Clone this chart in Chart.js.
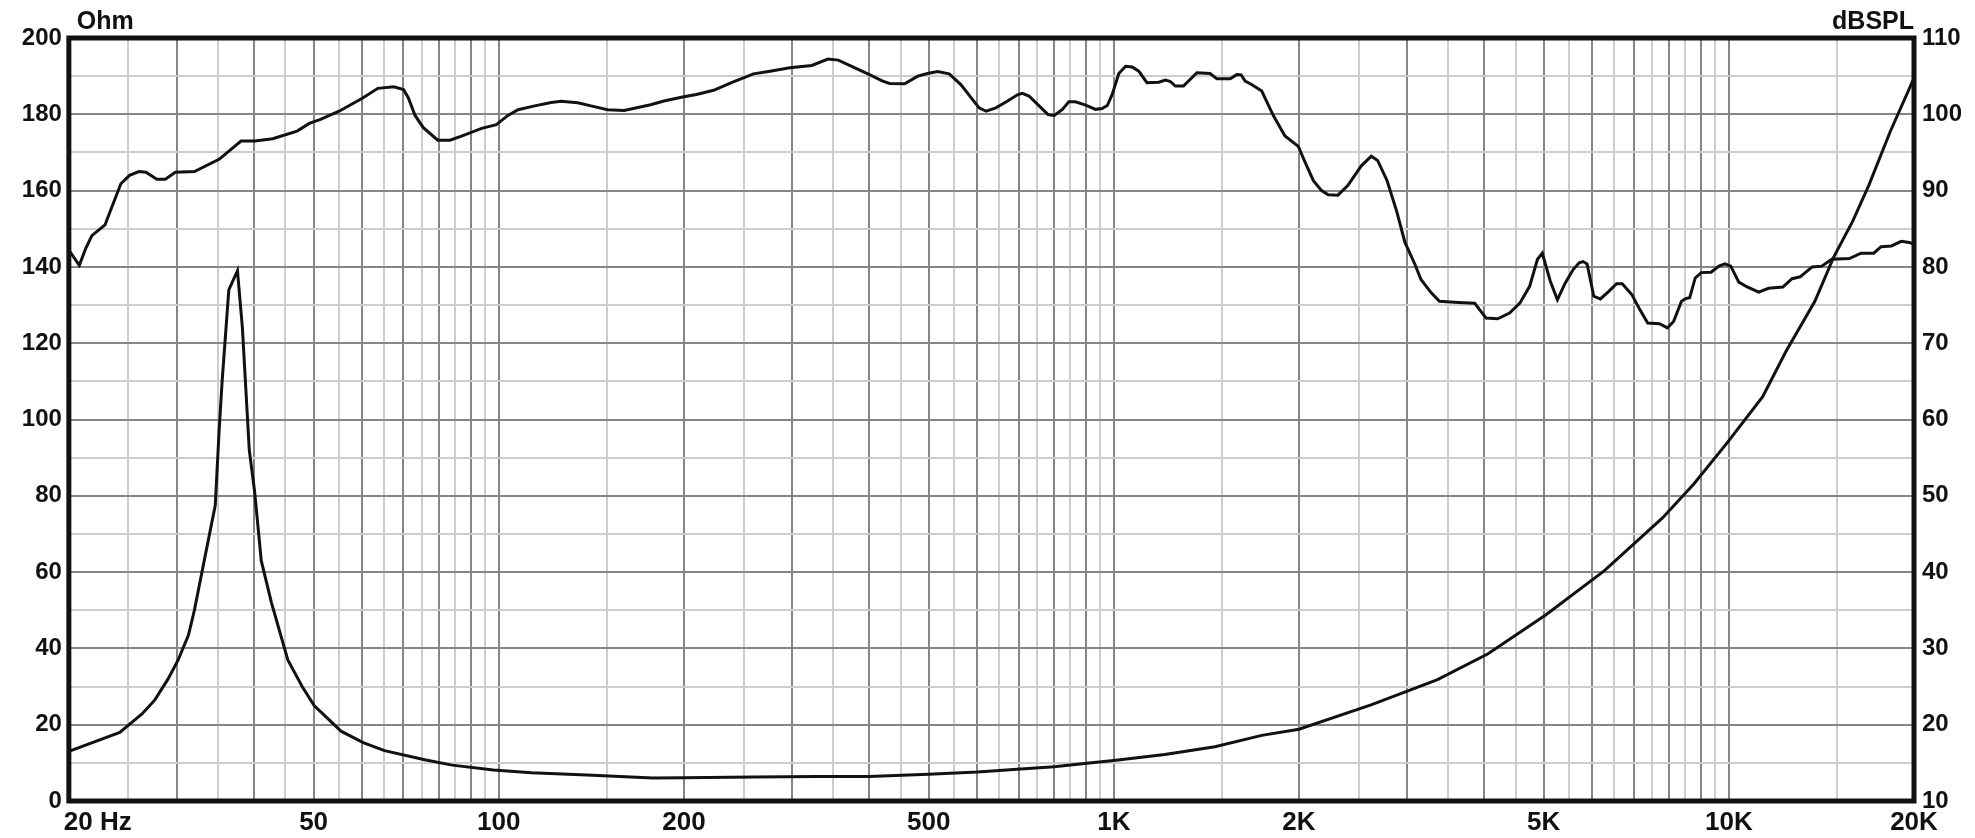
<!DOCTYPE html>
<html>
<head>
<meta charset="utf-8">
<script src="https://cdn.jsdelivr.net/npm/chart.js@4.4.1/dist/chart.umd.min.js"></script>
<style>
  html, body { margin: 0; padding: 0; background: #ffffff; }
  #wrap { width: 1975px; height: 838px; }
</style>
</head>
<body>
<div id="wrap"><canvas id="c" width="1975" height="838"></canvas></div>
<script>
// ---------- DATA ----------
const impFreq = [20, 24.2, 26.3, 27.6, 29.0, 30.1, 31.3, 32.0, 33.2, 34.6, 35.1, 35.5, 36.4, 37.6, 38.3, 39.3, 40.1, 41.1, 42.7, 45.4, 47.9, 50.1, 55.4, 60.2, 65.2, 75.8, 84, 98, 113, 139, 178, 200, 260, 330, 400, 500, 600, 706, 800, 920, 1000, 1210, 1460, 1740, 2000, 2620, 3360, 4060, 5030, 6270, 7800, 8770, 9950, 11350, 12400, 13800, 14800, 15900, 16900, 18300, 20000];
const impOhm  = [13.0, 18.0, 22.8, 26.5, 32.0, 36.9, 43.5, 50.0, 63.0, 77.5, 97.0, 110.0, 134.0, 139.0, 124.0, 92.0, 81.0, 63.0, 52.0, 37.0, 30.0, 25.0, 18.3, 15.3, 13.2, 10.8, 9.4, 8.1, 7.4, 6.8, 6.0, 6.1, 6.3, 6.4, 6.4, 7.0, 7.6, 8.4, 9.0, 10.0, 10.6, 12.2, 14.2, 17.2, 18.8, 25.2, 31.8, 38.6, 48.7, 60.3, 74.2, 83.1, 94.0, 106.0, 118.0, 131.0, 142.5, 152.0, 161.5, 175.5, 189.5];

const splFreq = [20, 20.8, 21.3, 21.8, 22.9, 23.4, 24.3, 25.1, 26.0, 26.7, 27.8, 28.7, 29.8, 32.0, 35.1, 38.1, 40.1, 42.9, 47.0, 49.2, 51.2, 55.0, 60.0, 63.6, 67.5, 70.0, 71.3, 73.1, 75.4, 79.6, 83.3, 87.0, 93.8, 99.1, 103.5, 107.5, 114.4, 121.7, 126.3, 134.4, 141.2, 150.3, 159.9, 176.6, 185.6, 199.9, 209.6, 223.5, 240.6, 259.5, 276.0, 297.3, 322.8, 343.0, 356.5, 382.5, 400.6, 421, 432, 457, 480, 498, 517, 540, 564, 589, 604, 620, 643, 672, 697, 710, 728, 756, 782, 800, 825, 845, 866, 900, 934, 957, 976, 994, 1019, 1045, 1071, 1098, 1132, 1183, 1213, 1236, 1259, 1298, 1365, 1434, 1471, 1546, 1585, 1611, 1635, 1675, 1740, 1818, 1898, 1995, 2047, 2111, 2177, 2231, 2314, 2401, 2526, 2622, 2685, 2782, 2887, 2974, 3087, 3158, 3282, 3384, 3633, 3861, 4028, 4208, 4401, 4573, 4743, 4885, 4973, 5124, 5263, 5421, 5583, 5710, 5795, 5882, 6031, 6183, 6379, 6568, 6710, 6958, 7166, 7380, 7713, 7945, 8131, 8376, 8505, 8636, 8817, 9017, 9356, 9637, 9855, 10070, 10380, 10690, 11180, 11600, 12240, 12670, 13060, 13660, 14160, 14700, 15700, 16400, 17200, 17680, 18380, 19070, 19650, 20000];
const splDb   = [82.2, 80.2, 82.4, 84.1, 85.5, 87.5, 90.9, 92.0, 92.5, 92.4, 91.5, 91.5, 92.4, 92.5, 94.1, 96.5, 96.5, 96.8, 97.8, 98.8, 99.3, 100.4, 102.1, 103.4, 103.6, 103.25, 102.15, 99.85, 98.25, 96.6, 96.6, 97.15, 98.15, 98.65, 99.85, 100.6, 101.1, 101.55, 101.7, 101.5, 101.1, 100.6, 100.5, 101.25, 101.75, 102.3, 102.6, 103.15, 104.25, 105.3, 105.65, 106.1, 106.4, 107.25, 107.1, 105.95, 105.2, 104.35, 104.05, 104.0, 105.0, 105.35, 105.6, 105.3, 103.9, 101.95, 100.85, 100.4, 100.85, 101.75, 102.55, 102.75, 102.4, 101.1, 99.95, 99.85, 100.65, 101.65, 101.65, 101.2, 100.65, 100.75, 101.15, 102.6, 105.35, 106.3, 106.2, 105.65, 104.15, 104.2, 104.5, 104.3, 103.7, 103.7, 105.45, 105.35, 104.65, 104.65, 105.2, 105.15, 104.35, 103.9, 103.05, 99.8, 97.15, 95.8, 93.7, 91.3, 90.0, 89.45, 89.4, 90.65, 93.25, 94.5, 93.95, 91.3, 87.15, 83.2, 80.35, 78.35, 76.6, 75.5, 75.35, 75.25, 73.3, 73.2, 73.95, 75.25, 77.45, 81.0, 81.8, 78.15, 75.7, 77.9, 79.65, 80.55, 80.7, 80.4, 76.15, 75.8, 76.8, 77.8, 77.8, 76.35, 74.4, 72.65, 72.55, 72.0, 72.85, 75.5, 75.85, 75.95, 78.55, 79.25, 79.3, 80.1, 80.4, 80.1, 78.0, 77.4, 76.7, 77.2, 77.35, 78.45, 78.7, 80.0, 80.1, 81.0, 81.1, 81.8, 81.8, 82.65, 82.75, 83.35, 83.2, 82.95];

const xLabelValues = [20, 50, 100, 200, 500, 1000, 2000, 5000, 10000, 20000];
const xLabelTexts  = ['        20 Hz', '50', '100', '200', '500', '1K', '2K', '5K', '10K', '20K'];
const leftAxisTitle = 'Ohm';
const rightAxisTitle = 'dBSPL';

// ---------- BUILD ----------
const FONT = '"Liberation Sans", Arial, Helvetica, sans-serif';
const MAJOR = '#868686';
const MINOR = '#cdcdcd';

function gridValues() {
  const out = [];
  const mant = [1, 1.5, 2, 2.5, 3, 3.5, 4, 4.5, 5, 5.5, 6, 6.5, 7, 7.5, 8, 8.5, 9, 9.5];
  [10, 100, 1000, 10000].forEach(d => mant.forEach(m => {
    const v = m * d;
    if (v >= 20 && v <= 20000) out.push(v);
  }));
  return out;
}
function isMajorFreq(v) {
  const e = Math.floor(Math.log10(v) + 1e-9);
  const m = v / Math.pow(10, e);
  return Math.abs(m - Math.round(m)) < 1e-6;
}
const labelMap = {};
xLabelValues.forEach((v, i) => { labelMap[v] = xLabelTexts[i]; });

const impPoints = impFreq.map((f, i) => ({ x: f, y: impOhm[i] }));
const splPoints = splFreq.map((f, i) => ({ x: f, y: splDb[i] }));

const framePlugin = {
  id: 'frame',
  afterDraw(chart) {
    const { ctx, chartArea: a } = chart;
    ctx.save();
    ctx.strokeStyle = '#111111';
    ctx.lineWidth = 5;
    ctx.strokeRect(a.left, a.top, a.right - a.left, a.bottom - a.top);
    ctx.fillStyle = '#111111';
    ctx.font = 'bold 25px ' + FONT;
    ctx.textBaseline = 'alphabetic';
    ctx.textAlign = 'left';
    ctx.fillText(leftAxisTitle, a.left + 8, 29);
    ctx.textAlign = 'right';
    ctx.fillText(rightAxisTitle, a.right, 29);
    ctx.restore();
  }
};

new Chart(document.getElementById('c'), {
  type: 'line',
  data: {
    datasets: [
      { label: 'Impedance', data: impPoints, yAxisID: 'y', borderColor: '#111111', borderWidth: 3, pointRadius: 0, tension: 0, fill: false },
      { label: 'SPL', data: splPoints, yAxisID: 'y2', borderColor: '#111111', borderWidth: 3, pointRadius: 0, tension: 0, fill: false }
    ]
  },
  options: {
    responsive: false,
    animation: false,
    devicePixelRatio: 1,
    layout: { padding: { top: 38, left: 0, right: 0, bottom: 0 } },
    plugins: { legend: { display: false }, tooltip: { enabled: false }, title: { display: false } },
    scales: {
      x: {
        type: 'logarithmic',
        position: 'bottom',
        min: 20,
        max: 20000,
        afterBuildTicks(scale) { scale.ticks = gridValues().map(v => ({ value: v })); },
        afterFit(scale) { scale.height = 37; },
        border: { display: false },
        grid: {
          drawTicks: false,
          lineWidth: 2,
          color: ctx => (ctx.tick && isMajorFreq(ctx.tick.value)) ? MAJOR : MINOR
        },
        ticks: {
          autoSkip: false,
          maxRotation: 0,
          minRotation: 0,
          padding: 6,
          color: '#111111',
          font: { family: FONT, size: 26, weight: 'bold' },
          callback: v => (labelMap[v] !== undefined ? labelMap[v] : '')
        }
      },
      y: {
        position: 'left',
        min: 0,
        max: 200,
        afterFit(scale) { scale.width = 60; },
        border: { display: false },
        grid: {
          drawTicks: false,
          lineWidth: 2,
          color: ctx => (ctx.tick && ctx.tick.value % 20 === 0) ? MAJOR : MINOR
        },
        ticks: {
          stepSize: 10,
          padding: 7,
          color: '#111111',
          font: { family: FONT, size: 24, weight: 'bold' },
          callback: v => (v % 20 === 0 ? String(v) : '')
        }
      },
      y2: {
        position: 'right',
        min: 10,
        max: 110,
        afterFit(scale) { scale.width = 61; },
        border: { display: false },
        grid: { display: false, drawTicks: false },
        ticks: {
          stepSize: 10,
          padding: 8,
          color: '#111111',
          font: { family: FONT, size: 24, weight: 'bold' }
        }
      }
    }
  },
  plugins: [framePlugin]
});
</script>
</body>
</html>
